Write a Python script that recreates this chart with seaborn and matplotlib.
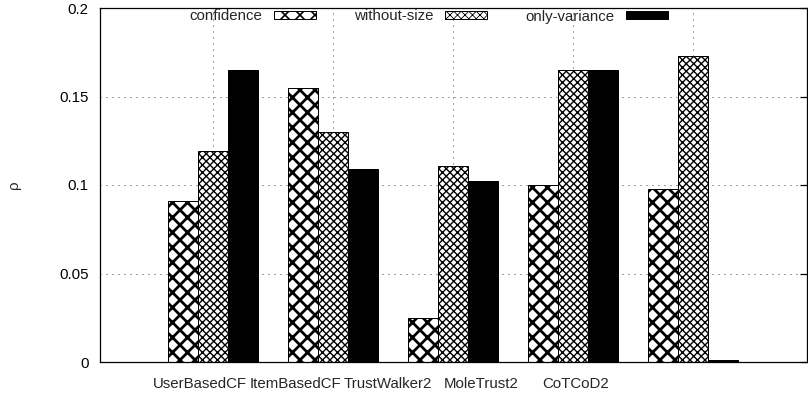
import numpy as np
import pandas as pd
import matplotlib

matplotlib.use("Agg")
import matplotlib.pyplot as plt
import seaborn as sns

# values
methods = ["UserBasedCF", "ItemBasedCF", "TrustWalker2", "MoleTrust2", "CoTCoD2"]
series = ["confidence", "without-size", "only-variance"]
confidence = [0.091, 0.155, 0.025, 0.100, 0.098]
without_size = [0.119, 0.130, 0.111, 0.165, 0.173]
only_variance = [0.165, 0.109, 0.102, 0.165, 0.001]
y_ticks = [0, 0.05, 0.1, 0.15, 0.2]
y_tick_labels = ["0", "0.05", "0.1", "0.15", "0.2"]
# gnuplot put the category labels slightly left of the clusters
label_pos = [-0.108, 0.683, 1.458, 2.233, 3.025]

df = pd.DataFrame(
    {
        "method": methods * 3,
        "series": np.repeat(series, len(methods)),
        "rho": confidence + without_size + only_variance,
    }
)

sns.set_style("white")
plt.rcParams["font.family"] = ["Liberation Sans", "DejaVu Sans"]

DPI = 90
fig = plt.figure(figsize=(808 / DPI, 401 / DPI), dpi=DPI)
ax = fig.add_axes([100 / 808, 1 - 362 / 401, 707 / 808, 354 / 401])

sns.barplot(
    data=df,
    x="method",
    y="rho",
    hue="series",
    palette=["white", "white", "black"],
    edgecolor="black",
    linewidth=0.8,
    width=0.75,
    gap=0,
    saturation=1,
    legend=False,
    ax=ax,
    zorder=2,
)

hatches = ["xx", "xxxx", ""]
hatch_lw = [2.2, 1.1, 1.0]
for cont, h, hl in zip(ax.containers, hatches, hatch_lw):
    for bar in cont.patches:
        bar.set_hatch(h)
        if hasattr(bar, "set_hatch_linewidth"):
            bar.set_hatch_linewidth(hl)
        bar.set_zorder(2)

ax.set_xlim(-0.942, 4.95)
ax.set_ylim(0, 0.2)
ax.set_yticks(y_ticks)
ax.set_yticklabels(y_tick_labels)
ax.set_xticks(range(len(methods)))
ax.set_xticklabels([""] * len(methods))
ax.set_xticks(label_pos, minor=True)
ax.set_xticklabels(methods, minor=True)
ax.tick_params(axis="x", which="both", length=0)
ax.tick_params(axis="x", which="minor", pad=12, labelsize=12)
ax.tick_params(axis="y", direction="in", length=6, width=1, right=True,
               pad=9, labelsize=12, colors="black")
ax.set_xlabel("")
ax.set_ylabel("ρ", fontsize=12)
ax.yaxis.set_label_coords(-0.112, 0.5)

ax.grid(True, which="major", axis="both", color="#444444",
        linestyle=(0, (1, 5)), linewidth=0.8, zorder=0)
ax.set_axisbelow(True)
for sp in ax.spines.values():
    sp.set_visible(True)
    sp.set_color("black")
    sp.set_linewidth(1.0)

leg = ax.legend(
    handles=list(ax.containers),
    labels=series,
    loc="upper left",
    bbox_to_anchor=(0.1245, 1.0),
    ncol=3,
    frameon=False,
    markerfirst=False,
    fontsize=12,
    handlelength=2.8,
    handleheight=0.5,
    handletextpad=0.8,
    columnspacing=2.5,
    borderpad=0.1,
    borderaxespad=0,
)
for hdl, hl in zip(leg.legend_handles, hatch_lw):
    if hasattr(hdl, "set_hatch_linewidth"):
        hdl.set_hatch_linewidth(hl * 0.6)

fig.savefig("out.png", dpi=DPI)
